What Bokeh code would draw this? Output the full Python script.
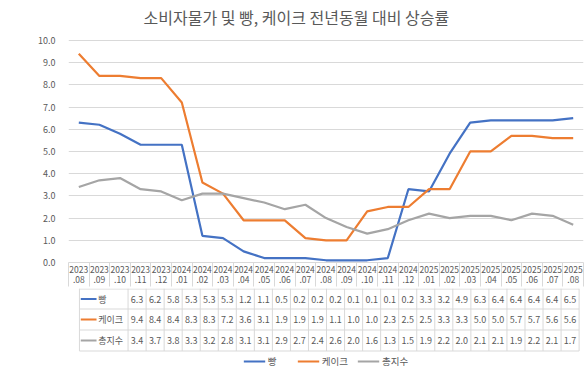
from bokeh.plotting import figure
from bokeh.layouts import column
from bokeh.models import (Range1d, FixedTicker, PrintfTickFormatter, LinearAxis, Grid,
                          Legend, LegendItem)
from bokeh.core.properties import value
from bokeh.embed import file_html
from bokeh.resources import INLINE

# ---------------- data ----------------
months = ["2023.08", "2023.09", "2023.10", "2023.11", "2023.12", "2024.01", "2024.02",
          "2024.03", "2024.04", "2024.05", "2024.06", "2024.07", "2024.08", "2024.09",
          "2024.10", "2024.11", "2024.12", "2025.01", "2025.02", "2025.03", "2025.04",
          "2025.05", "2025.06", "2025.07", "2025.08"]
bread = [6.3, 6.2, 5.8, 5.3, 5.3, 5.3, 1.2, 1.1, 0.5, 0.2, 0.2, 0.2, 0.1, 0.1, 0.1,
         0.2, 3.3, 3.2, 4.9, 6.3, 6.4, 6.4, 6.4, 6.4, 6.5]
cake = [9.4, 8.4, 8.4, 8.3, 8.3, 7.2, 3.6, 3.1, 1.9, 1.9, 1.9, 1.1, 1.0, 1.0, 2.3,
        2.5, 2.5, 3.3, 3.3, 5.0, 5.0, 5.7, 5.7, 5.6, 5.6]
total = [3.4, 3.7, 3.8, 3.3, 3.2, 2.8, 3.1, 3.1, 2.9, 2.7, 2.4, 2.6, 2.0, 1.6, 1.3,
         1.5, 1.9, 2.2, 2.0, 2.1, 2.1, 1.9, 2.2, 2.1, 1.7]
series_names = ["빵", "케이크", "총지수"]
y_ticks = [0, 1, 2, 3, 4, 5, 6, 7, 8, 9, 10]
title_text = "소비자물가 및 빵, 케이크 전년동월 대비 상승률"

# ---------------- style ----------------
FONT = "Noto Sans CJK KR"
TXT = "#595959"
GRID = "#D9D9D9"
COLORS = ["#4472C4", "#ED7D31", "#A5A5A5"]
series = [bread, cake, total]

n = len(months)
xs = list(range(n))

# ---------------- top chart ----------------
p = figure(width=588, height=288,
           x_range=Range1d(-0.5, n - 0.5),
           y_range=Range1d(0, 10 + 10 / 22.5),
           x_axis_type=None, y_axis_type=None,
           output_backend="svg", toolbar_location=None,
           min_border_left=68, min_border_right=5, min_border_top=30, min_border_bottom=23)
p.outline_line_color = None
p.background_fill_color = "white"

p.title.text = title_text
p.title.align = "left"
p.title.offset = 75
p.title.text_font = FONT
p.title.text_font_size = "16px"
p.title.text_font_style = "normal"
p.title.text_color = TXT
p.title.standoff = 3

yticker = FixedTicker(ticks=y_ticks)
yaxis = LinearAxis(ticker=yticker, formatter=PrintfTickFormatter(format="%.1f"))
yaxis.axis_line_color = None
yaxis.major_tick_line_color = None
yaxis.minor_tick_line_color = None
yaxis.major_label_standoff = 7
yaxis.major_label_text_font = FONT
yaxis.major_label_text_font_size = "9px"
yaxis.major_label_text_color = TXT
p.add_layout(yaxis, "left")
p.add_layout(Grid(dimension=1, ticker=yticker, grid_line_color=GRID, grid_line_width=1))

header = {i: m.split(".")[0] + "\n." + m.split(".")[1] for i, m in enumerate(months)}
xticker = FixedTicker(ticks=xs, minor_ticks=[i - 0.5 for i in range(n + 1)])
xaxis = LinearAxis(ticker=xticker, major_label_overrides=header)
xaxis.axis_line_color = GRID
xaxis.major_tick_line_color = None
xaxis.major_tick_in = 0
xaxis.major_tick_out = 0
xaxis.minor_tick_line_color = GRID
xaxis.minor_tick_in = 0
xaxis.minor_tick_out = 24
xaxis.major_label_standoff = -24
xaxis.major_label_text_font = FONT
xaxis.major_label_text_font_size = "8.5px"
xaxis.major_label_text_color = TXT
xaxis.major_label_text_line_height = 0.88
p.add_layout(xaxis, "below")

for vals, col in zip(series, COLORS):
    p.line(xs, vals, line_color=col, line_width=2.2)

# ---------------- data table + legend ----------------
X0, STEP = 78.3, 20.6          # pixel centre of first column, column width


def px_to_i(px):
    return (px - X0) / STEP


q = figure(width=588, height=88,
           x_range=Range1d(px_to_i(0), px_to_i(588)),
           y_range=Range1d(376, 288),
           x_axis_type=None, y_axis_type=None,
           output_backend="svg", toolbar_location=None,
           min_border=0)
q.outline_line_color = None
q.xgrid.visible = False
q.ygrid.visible = False

row_tops = [288.5, 308.5, 329.5, 350.5]
row_mid = [298.5, 319, 340]
left = px_to_i(12.5)
right = n - 0.5

# horizontal lines
q.segment(x0=[left] * 4, y0=row_tops, x1=[right] * 4, y1=row_tops,
          line_color=GRID, line_width=1)
# vertical lines
vx = [left] + [i - 0.5 for i in range(n + 1)]
q.segment(x0=vx, y0=[288] * len(vx), x1=vx, y1=[350.5] * len(vx),
          line_color=GRID, line_width=1)

items = []
for name, vals, col, ym in zip(series_names, series, COLORS, row_mid):
    key = q.line([px_to_i(14), px_to_i(32)], [ym, ym], line_color=col, line_width=2)
    items.append(LegendItem(label=name, renderers=[key]))
    q.text(x=[px_to_i(34)], y=[ym], text=[name], text_align="left",
           text_baseline="middle", text_font=value(FONT), text_font_size="9px",
           text_color=TXT)
    q.text(x=xs, y=[ym] * n, text=[f"{v:.1f}" for v in vals], text_align="center",
           text_baseline="middle", text_font=value(FONT), text_font_size="9px",
           text_color=TXT)

legend = Legend(items=items, orientation="horizontal", location="bottom_center",
                border_line_color=None, background_fill_alpha=0, padding=0, margin=8,
                spacing=9, glyph_width=22, glyph_height=12, label_height=12,
                label_standoff=3, label_text_font=FONT, label_text_font_size="9.5px",
                label_text_color=TXT)
q.add_layout(legend)

layout = column(p, q, spacing=0)
open("out.html", "w").write(file_html(layout, INLINE))
